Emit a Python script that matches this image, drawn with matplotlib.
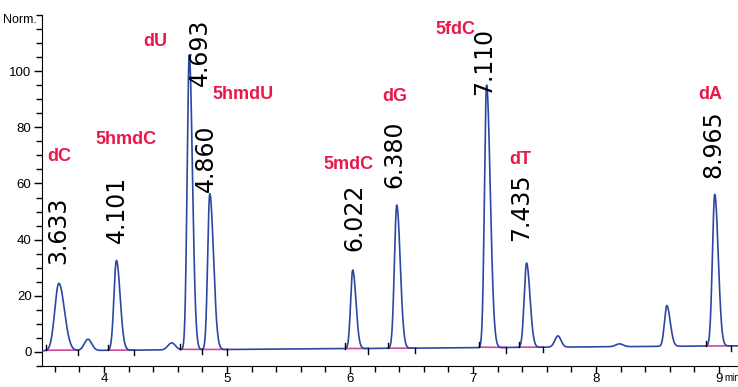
import numpy as np
import matplotlib
matplotlib.use("Agg")
import matplotlib.pyplot as plt
from matplotlib.ticker import MultipleLocator

# peaks (retention time, height above baseline, left/right sigma)
peak_rt = [3.633, 3.870, 4.101, 4.550, 4.693, 4.860, 6.022, 6.380, 7.110, 7.435, 7.690, 8.190, 8.575, 8.965]
peak_h = [24.0, 4.0, 32.0, 2.5, 105.0, 55.5, 28.0, 51.0, 93.5, 30.0, 4.0, 1.0, 14.5, 54.0]
sig_l = [0.033, 0.030, 0.020, 0.030, 0.017, 0.017, 0.017, 0.019, 0.017, 0.019, 0.025, 0.030, 0.019, 0.019]
sig_r = [0.045, 0.030, 0.030, 0.030, 0.026, 0.030, 0.026, 0.028, 0.030, 0.028, 0.025, 0.030, 0.028, 0.028]

# baseline drift (two points)
base_t = [3.45, 9.2]
base_y = [0.4, 2.2]

# labelled peaks
rt_labels = ["3.633", "4.101", "4.693", "4.860", "6.022", "6.380", "7.110", "7.435", "8.965"]
names = ["dC", "5hmdC", "dU", "5hmdU", "5mdC", "dG", "5fdC", "dT", "dA"]

# integration events (start, end) and a drop line
int_start = [3.53, 4.03, 4.62, 5.96, 6.31, 7.05, 7.37, 8.89]
int_end = [3.79, 4.24, 5.00, 6.15, 6.53, 7.27, 7.57, 9.10]
drop_t = [4.80]

# label anchor positions (layout only)
num_pos = [(3.626, 43.2), (4.106, 50.7), (4.776, 106.8), (4.832, 69.0), (6.033, 47.9),
           (6.362, 70.4), (7.092, 103.6), (7.390, 51.4), (8.951, 73.9)]
name_pos = [(3.634, 69.6), (4.179, 75.7), (4.415, 110.4), (5.130, 91.8), (5.984, 66.8),
            (6.366, 91.1), (6.854, 115.0), (7.382, 68.6), (8.927, 91.8)]


def trace(t):
    y = np.interp(t, base_t, base_y)
    for rt, h, sl, sr in zip(peak_rt, peak_h, sig_l, sig_r):
        s = np.where(t < rt, sl, sr)
        y = y + h * np.exp(-0.5 * ((t - rt) / s) ** 2)
    return y


t = np.linspace(3.45, 9.2, 5000)
y = trace(t)

narrow = ["Liberation Sans Narrow", "Liberation Sans", "DejaVu Sans"]

fig = plt.figure(figsize=(7.38, 3.87), dpi=100)
ax = fig.add_axes([42 / 738, 21 / 387, 696 / 738, 351 / 387])

ax.plot(t, y, color="#2b47a3", lw=1.2, zorder=3)

pink = "#d0479c"
for a, b in zip(int_start, int_end):
    ya, yb = trace(np.array([a, b]))
    ax.plot([a, b], [ya, yb], color=pink, lw=1.2, zorder=2)
    ax.plot([a, a], [ya, ya + 1.8], color="black", lw=1.0, zorder=4)
    ax.plot([b, b], [yb, yb - 1.8], color="black", lw=1.0, zorder=4)
for d in drop_t:
    yv = trace(np.array([d]))[0]
    yb = np.interp(d, [4.62, 5.00], trace(np.array([4.62, 5.00])))
    ax.plot([d, d], [yb, yv], color=pink, lw=1.2, zorder=2)
    ax.plot([d, d], [yv, yv - 1.8], color="black", lw=1.0, zorder=4)

for lab, (x0, y0) in zip(rt_labels, num_pos):
    ax.text(x0, y0, lab, rotation=90, ha="center", va="center", fontsize=17,
            family="DejaVu Sans", color="black", zorder=5)
for nm, (x0, y0) in zip(names, name_pos):
    ax.text(x0, y0, nm, ha="center", va="center", fontsize=13, fontweight="bold",
            family="Liberation Sans", color="#e8194a", zorder=5)

ax.set_xlim(3.496, 9.154)
ax.set_ylim(-5, 120)
ax.spines["top"].set_visible(False)
ax.spines["right"].set_visible(False)
ax.xaxis.set_major_locator(MultipleLocator(1))
ax.xaxis.set_minor_locator(MultipleLocator(0.2))
ax.yaxis.set_major_locator(MultipleLocator(20))
ax.yaxis.set_minor_locator(MultipleLocator(5))
ax.set_yticks([0, 20, 40, 60, 80, 100])
ax.tick_params(axis="y", which="major", direction="out", length=6, width=1.0, pad=1.5)
ax.tick_params(axis="x", which="major", direction="out", length=5, width=1.0, pad=0)
ax.tick_params(axis="both", which="minor", direction="out", length=4, width=1.0)
for lb in ax.get_xticklabels() + ax.get_yticklabels():
    lb.set_family(narrow)
    lb.set_fontsize(9.5)

ax.text(9.04, -0.043, "min", transform=ax.get_xaxis_transform(), ha="left", va="baseline",
        family=narrow, fontsize=7, clip_on=False)
fig.text(37 / 738, 1 - 20 / 387, "Norm.", ha="right", va="center", family=narrow, fontsize=9)

fig.savefig("out.png", dpi=100)
